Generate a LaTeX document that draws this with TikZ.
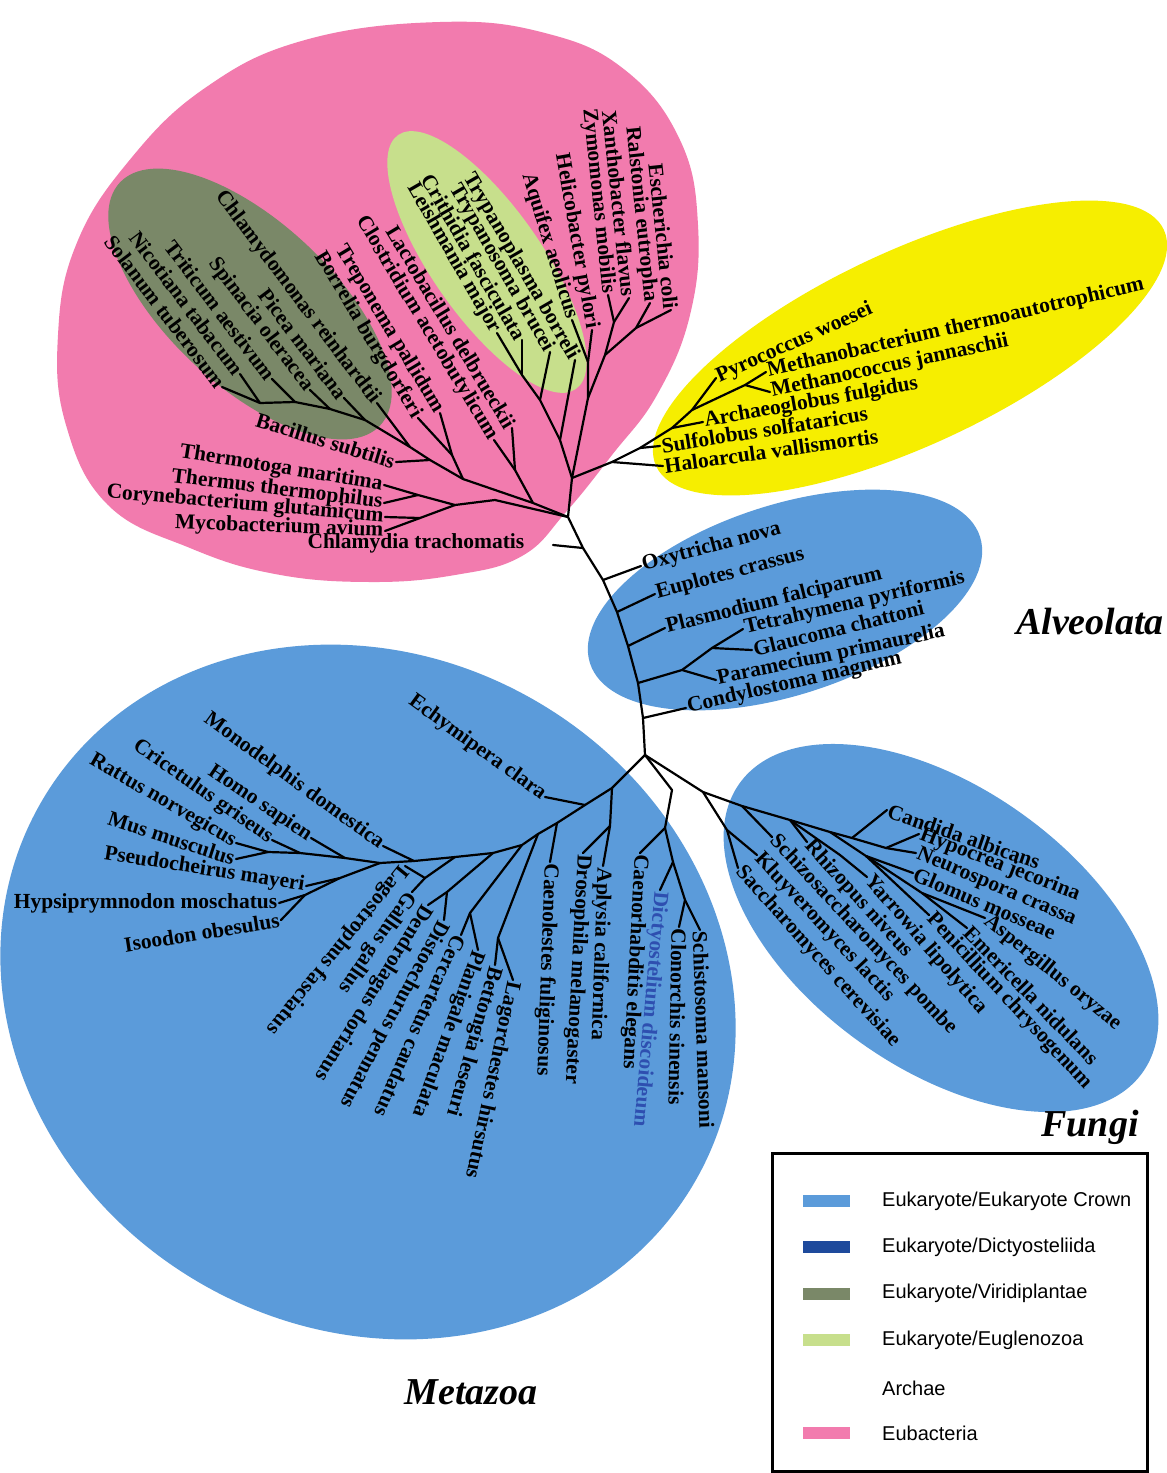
\documentclass[tikz,border=0pt]{standalone}
\usepackage{fontspec}
\setmainfont{Liberation Serif}
\newfontfamily\legendfont{Liberation Sans}
\definecolor{eubact}{HTML}{F27BAE}
\definecolor{archfill}{HTML}{F6EE00}
\definecolor{crown}{HTML}{5B9BDA}
\definecolor{dicty}{HTML}{1E4A9C}
\definecolor{viridi}{HTML}{7A8868}
\definecolor{euglen}{HTML}{C7DF8C}
\definecolor{dictytext}{HTML}{2E4FB0}
\begin{document}
\begin{tikzpicture}[x=1pt,y=-1pt,
  br/.style={line width=2.2pt, line join=round, line cap=round},
  lab/.style={font=\bfseries\fontsize{21.5}{22}\selectfont, inner sep=1.5pt},
  rl/.style={lab, anchor=west},
  ll/.style={lab, anchor=east},
  clade/.style={font=\bfseries\itshape\fontsize{38}{40}\selectfont},
  legtxt/.style={font=\legendfont\fontsize{20}{22}\selectfont, anchor=west, inner sep=0pt},
  swatch/.style={minimum width=47pt, minimum height=12pt, inner sep=0pt, anchor=west}
]
\useasboundingbox (0,0) rectangle (1167,1473);
\fill[white] (0,0) rectangle (1167,1473);

% ---------------- coloured kingdom regions ----------------
\fill[eubact] plot[smooth cycle, tension=0.7] coordinates {
  (440,22) (545,33) (625,70) (680,140) (698,225) (690,315) (657,395)
  (612,455) (566,512) (522,556) (455,575) (370,582) (275,574) (190,548)
  (108,505) (66,425) (58,335) (76,245) (128,162) (205,88) (305,40)};
\fill[viridi, rotate around={-43:(250,304)}] (250,304) ellipse [x radius=178pt, y radius=82pt];
\fill[euglen, rotate around={-55:(487,262)}] (487,262) ellipse [x radius=155pt, y radius=55pt];
\fill[archfill, rotate around={25:(910,348)}] (910,348) ellipse [x radius=280pt, y radius=97pt];
\fill[crown, rotate around={18:(785,600)}] (785,600) ellipse [x radius=205pt, y radius=95pt];
\fill[crown, rotate around={-30.6:(368,992)}] (368,992) ellipse [x radius=378pt, y radius=336pt];
\fill[crown, rotate around={-35.7:(941,928)}] (941,928) ellipse [x radius=248pt, y radius=140pt];

% ---------------- inner tree points ----------------
% backbone
\coordinate (A) at (572,478);  \coordinate (B) at (568,517);
\coordinate (k1) at (583,548); \coordinate (k2) at (603,580);
\coordinate (k3) at (617,612); \coordinate (k4) at (628,646);
\coordinate (k5) at (638,683); \coordinate (k6) at (643,718);
\coordinate (R) at (645,755);  \coordinate (ct) at (553,545);
% archaea
\coordinate (ar0) at (612,462); \coordinate (ar1) at (640,448);
\coordinate (ar2) at (672,428); \coordinate (ar3) at (692,410);
\coordinate (ar4) at (745,385);
% alveolata
\coordinate (nc1) at (682,670); \coordinate (nc2) at (712,648);
% eubacteria, lower part
\coordinate (TB) at (495,500); \coordinate (TC) at (455,505);
\coordinate (TT) at (418,495); \coordinate (CM) at (420,518);
\coordinate (LB1) at (533,503); \coordinate (LC) at (515,470);
\coordinate (N1) at (463,479); \coordinate (BT) at (452,455);
\coordinate (PB) at (430,460); \coordinate (P0) at (410,447);
\coordinate (P1) at (365,420); \coordinate (P2) at (330,409);
\coordinate (P3) at (295,402); \coordinate (P4) at (260,403);
% eubacteria, upper part
\coordinate (U1) at (560,440); \coordinate (EU) at (540,400);
\coordinate (T2) at (522,375); \coordinate (U2) at (588,398);
\coordinate (U3) at (588,362); \coordinate (U4) at (605,355);
\coordinate (ZX) at (614,322); \coordinate (RE) at (636,328);
% metazoa
\coordinate (S1) at (612,788); \coordinate (AD) at (610,826);
\coordinate (S2) at (585,805); \coordinate (S3) at (557,823);
\coordinate (S4) at (538,834); \coordinate (G3) at (498,938);
\coordinate (S5) at (522,845); \coordinate (PC) at (470,913);
\coordinate (S6) at (493,853); \coordinate (DD) at (447,892);
\coordinate (S7) at (455,857); \coordinate (LG) at (425,878);
\coordinate (S8) at (414,861); \coordinate (S9) at (380,863);
\coordinate (T1m) at (345,858); \coordinate (T2m) at (300,853);
\coordinate (T3m) at (268,852); \coordinate (B1) at (340,878);
\coordinate (B2) at (305,895);
\coordinate (CS0) at (672,790); \coordinate (CE) at (665,828);
\coordinate (CS1) at (673,862); \coordinate (CS2) at (685,900);
% fungi
\coordinate (f0) at (703,792); \coordinate (FS) at (727,830);
\coordinate (F1) at (742,806); \coordinate (F2) at (790,820);
\coordinate (F3) at (830,832); \coordinate (F4) at (852,838);
\coordinate (F5) at (886,848); \coordinate (G1) at (866,856);
\coordinate (G2) at (922,893); \coordinate (Y1) at (840,855);

% ---------------- leaf labels ----------------
% archaea
\node[rl, rotate=24] (pyr) at (716,378) {Pyrococcus woesei};
\node[rl, rotate=13] (mba) at (766,372) {Methanobacterium thermoautotrophicum};
\node[rl, rotate=12] (mco) at (770,392) {Methanococcus jannaschii};
\node[rl, rotate=10] (arc) at (703,422) {Archaeoglobus fulgidus};
\node[rl, rotate=9] (sul) at (660,446) {Sulfolobus solfataricus};
\node[rl, rotate=8] (hal) at (663,466) {Haloarcula vallismortis};
% alveolata
\node[rl, rotate=15] (oxy) at (641,566) {Oxytricha nova};
\node[rl, rotate=15] (eup) at (655,594) {Euplotes crassus};
\node[rl, rotate=14] (pla) at (665,628) {Plasmodium falciparum};
\node[rl, rotate=13] (tet) at (743,629) {Tetrahymena pyriformis};
\node[rl, rotate=14] (gla) at (752,650) {Glaucoma chattoni};
\node[rl, rotate=12] (par) at (716,680) {Paramecium primaurelia};
\node[rl, rotate=13] (con) at (686,708) {Condylostoma magnum};
% eubacteria
\node[ll, rotate=-17] (bac) at (396,462) {Bacillus subtilis};
\node[ll, rotate=-9] (thg) at (384,485) {Thermotoga maritima};
\node[ll, rotate=-7] (ths) at (384,503) {Thermus thermophilus};
\node[ll, rotate=-5] (cor) at (385,517) {Corynebacterium glutamicum};
\node[ll, rotate=-2] (myc) at (385,531) {Mycobacterium avium};
\node[ll] (chla) at (526,543) {Chlamydia trachomatis};
\node[ll, rotate=-59] (bor) at (418,418) {Borrelia burgdorferi};
\node[ll, rotate=-59] (tre) at (440,413) {Treponema pallidum};
\node[ll, rotate=-59] (clo) at (494,440) {Clostridium acetobutylicum};
\node[ll, rotate=-59] (lac) at (512,428) {Lactobacillus delbrueckii};
\node[ll, rotate=-60] (lei) at (497,333) {Leishmania major};
\node[ll, rotate=-60] (cri) at (522,340) {Crithidia fasciculata};
\node[ll, rotate=-60] (tbr) at (550,352) {Trypanosoma brucei};
\node[ll, rotate=-60] (tbo) at (575,360) {Trypanoplasma borreli};
\node[ll, rotate=-73] (aqu) at (572,320) {Aquifex aeolicus};
\node[ll, rotate=-80] (hel) at (592,330) {Helicobacter pylori};
\node[ll, rotate=-84] (zym) at (608,295) {Zymomonas mobilis};
\node[ll, rotate=-84] (xan) at (629,298) {Xanthobacter flavus};
\node[ll, rotate=-84] (ral) at (650,303) {Ralstonia eutropha};
\node[ll, rotate=-84] (esc) at (671,310) {Escherichia coli};
% viridiplantae
\node[ll, rotate=-53] (chr) at (377,403) {Chlamydomonas reinhardtii};
\node[ll, rotate=-53] (pic) at (344,398) {Picea mariana};
\node[ll, rotate=-53] (spi) at (310,390) {Spinacia oleracea};
\node[ll, rotate=-53] (tri) at (272,379) {Triticum aestivum};
\node[ll, rotate=-53] (nic) at (240,374) {Nicotiana tabacum};
\node[ll, rotate=-53] (sol) at (222,387) {Solanum tuberosum};
% metazoa, upper left
\node[ll, rotate=-36] (ech) at (545,797) {Echymipera clara};
\node[ll, rotate=-36] (mon) at (383,846) {Monodelphis domestica};
\node[ll, rotate=-34] (hom) at (311,838) {Homo sapien};
\node[ll, rotate=-35] (crg) at (272,840) {Cricetulus griseus};
\node[ll, rotate=-30] (rat) at (236,843) {Rattus norvegicus};
\node[ll, rotate=-18] (mus) at (236,859) {Mus musculus};
\node[ll, rotate=-9] (pse) at (306,886) {Pseudocheirus mayeri};
\node[ll] (hyp) at (279,903) {Hypsiprymnodon moschatus};
\node[ll, rotate=9] (iso) at (281,920) {Isoodon obesulus};
% metazoa, lower fan
\node[rl, rotate=-129] (lgs) at (405,866) {Lagostrophus fasciatus};
\node[rl, rotate=-125] (gal) at (412,892) {Gallus gallus};
\node[rl, rotate=-122] (den) at (428,905) {Dendrolagus dorianus};
\node[rl, rotate=-118] (dis) at (444,920) {Distoechurus pennatus};
\node[rl, rotate=-114] (cer) at (461,935) {Cercartetus caudatus};
\node[rl, rotate=-110] (pln) at (478,950) {Planigale maculata};
\node[rl, rotate=-106] (bet) at (495,965) {Bettongia leseuri};
\node[rl, rotate=-102] (lgc) at (513,980) {Lagorchestes hirsutus};
\node[rl, rotate=-92] (cae) at (550,862) {Caenolestes fuliginosus};
\node[rl, rotate=-93] (dro) at (583,853) {Drosophila melanogaster};
\node[rl, rotate=-92] (apl) at (603,866) {Aplysia californica};
\node[rl, rotate=-93] (cel) at (640,853) {Caenorhabditis elegans};
\node[rl, rotate=-95, text=dictytext] (dic) at (660,890) {Dictyostelium discoideum};
\node[rl, rotate=-91] (clo2) at (679,927) {Clonorchis sinensis};
\node[rl, rotate=-88] (sch) at (700,930) {Schistosoma mansoni};
% fungi
\node[rl, rotate=-19] (can) at (887,810) {Candida albicans};
\node[rl, rotate=-21] (hyp2) at (919,834) {Hypocrea jecorina};
\node[rl, rotate=-23] (neu) at (916,853) {Neurospora crassa};
\node[rl, rotate=-23] (glo) at (913,873) {Glomus mosseae};
\node[rl, rotate=-39] (asp) at (985,918) {Aspergillus oryzae};
\node[rl, rotate=-46] (emr) at (967,928) {Emericella nidulans};
\node[rl, rotate=-47] (pen) at (929,915) {Penicillium chrysogenum};
\node[rl, rotate=-49] (yar) at (867,877) {Yarrowia lipolytica};
\node[rl, rotate=-48] (rhi) at (807,842) {Rhizopus niveus};
\node[rl, rotate=-47] (szp) at (772,837) {Schizosaccharomyces pombe};
\node[rl, rotate=-47] (klu) at (757,855) {Kluyveromyces lactis};
\node[rl, rotate=-48] (sac) at (738,868) {Saccharomyces cerevisiae};

% ---------------- branches ----------------
% backbone
\draw[br] (A) -- (B) -- (k1) -- (k2) -- (k3) -- (k4) -- (k5) -- (k6) -- (R);
\draw[br] (k1) -- (ct);
% archaea
\draw[br] (A) -- (ar0) -- (ar1) -- (ar2) -- (ar3) -- (ar4);
\draw[br] (ar0) -- (hal.west);  \draw[br] (ar1) -- (sul.west);
\draw[br] (ar2) -- (arc.west);  \draw[br] (ar3) -- (pyr.west);
\draw[br] (ar4) -- (mba.west);  \draw[br] (ar4) -- (mco.west);
% alveolata
\draw[br] (k2) -- (oxy.west);  \draw[br] (k3) -- (eup.west);
\draw[br] (k4) -- (pla.west);
\draw[br] (k5) -- (nc1) -- (par.west);
\draw[br] (nc1) -- (nc2) -- (tet.west);  \draw[br] (nc2) -- (gla.west);
\draw[br] (k6) -- (con.west);
% eubacteria, lower part
\draw[br] (B) -- (TB) -- (TC);
\draw[br] (TC) -- (TT) -- (thg.east);  \draw[br] (TT) -- (ths.east);
\draw[br] (TC) -- (CM) -- (cor.east);  \draw[br] (CM) -- (myc.east);
\draw[br] (B) -- (LB1) -- (N1);
\draw[br] (LB1) -- (LC) -- (lac.east);  \draw[br] (LC) -- (clo.east);
\draw[br] (N1) -- (BT) -- (bor.east);  \draw[br] (BT) -- (tre.east);
\draw[br] (N1) -- (PB) -- (bac.east);
\draw[br] (PB) -- (P0) -- (chr.east);
\draw[br] (P0) -- (P1) -- (pic.east);
\draw[br] (P1) -- (P2) -- (spi.east);
\draw[br] (P2) -- (P3) -- (tri.east);
\draw[br] (P3) -- (P4) -- (nic.east);  \draw[br] (P4) -- (sol.east);
% eubacteria, upper part
\draw[br] (A) -- (U1) -- (tbo.east);
\draw[br] (U1) -- (EU) -- (tbr.east);
\draw[br] (EU) -- (T2) -- (lei.east);  \draw[br] (T2) -- (cri.east);
\draw[br] (A) -- (U2) -- (U3) -- (aqu.east);  \draw[br] (U3) -- (hel.east);
\draw[br] (U2) -- (U4) -- (ZX) -- (zym.east);  \draw[br] (ZX) -- (xan.east);
\draw[br] (U4) -- (RE) -- (ral.east);  \draw[br] (RE) -- (esc.east);
% metazoa
\draw[br] (R) -- (S1) -- (S2) -- (S3) -- (S4) -- (S5) -- (S6) -- (S7) -- (S8) -- (S9);
\draw[br] (S1) -- (AD) -- (apl.west);  \draw[br] (AD) -- (dro.west);
\draw[br] (S2) -- (ech.east);
\draw[br] (S3) -- (cae.west);
\draw[br] (S4) -- (G3) -- (bet.west);  \draw[br] (G3) -- (lgc.west);
\draw[br] (S5) -- (PC) -- (cer.west);  \draw[br] (PC) -- (pln.west);
\draw[br] (S6) -- (DD) -- (den.west);  \draw[br] (DD) -- (dis.west);
\draw[br] (S7) -- (LG) -- (lgs.west);  \draw[br] (LG) -- (gal.west);
\draw[br] (S8) -- (mon.east);
\draw[br] (S9) -- (T1m) -- (hom.east);
\draw[br] (T1m) -- (T2m) -- (crg.east);
\draw[br] (T2m) -- (T3m) -- (rat.east);  \draw[br] (T3m) -- (mus.east);
\draw[br] (S9) -- (B1) -- (pse.east);
\draw[br] (B1) -- (B2) -- (hyp.east);  \draw[br] (B2) -- (iso.east);
\draw[br] (R) -- (CS0) -- (CE) -- (cel.west);
\draw[br] (CE) -- (CS1) -- (dic.west);
\draw[br] (CS1) -- (CS2) -- (clo2.west);  \draw[br] (CS2) -- (sch.west);
% fungi
\draw[br] (R) -- (f0) -- (F1) -- (F2) -- (F3) -- (F4) -- (F5) -- (hyp2.west);
\draw[br] (F5) -- (neu.west);  \draw[br] (F4) -- (can.west);
\draw[br] (f0) -- (FS) -- (sac.west);  \draw[br] (FS) -- (klu.west);
\draw[br] (F1) -- (szp.west);  \draw[br] (F2) -- (rhi.west);
\draw[br] (F2) -- (Y1) -- (yar.west);
\draw[br] (F3) -- (G1) -- (glo.west);
\draw[br] (G1) -- (G2) -- (asp.west);  \draw[br] (G2) -- (emr.west);
\draw[br] (G1) -- (pen.west);

% ---------------- clade names ----------------
\node[clade] (alv) at (1090,622) {Alveolata};
\node[clade] (fun) at (1090,1127) {Fungi};
\node[clade] (met) at (471,1392) {Metazoa};

% ---------------- legend ----------------
\draw[line width=3pt] (772,1153) rectangle (1147,1471);
\node[swatch, fill=crown] (sw1) at (803,1201) {};
\node[swatch, fill=dicty] (sw2) at (803,1247) {};
\node[swatch, fill=viridi] (sw3) at (803,1294) {};
\node[swatch, fill=euglen] (sw4) at (803,1340) {};
\node[swatch, fill=eubact] (sw6) at (803,1433) {};
\node[legtxt] (lg1) at (882,1201) {Eukaryote/Eukaryote Crown};
\node[legtxt] (lg2) at (882,1247) {Eukaryote/Dictyosteliida};
\node[legtxt] (lg3) at (882,1293) {Eukaryote/Viridiplantae};
\node[legtxt] (lg4) at (882,1340) {Eukaryote/Euglenozoa};
\node[legtxt] (lg5) at (882,1388) {Archae};
\node[legtxt] (lg6) at (882,1433) {Eubacteria};
\end{tikzpicture}
\end{document}
